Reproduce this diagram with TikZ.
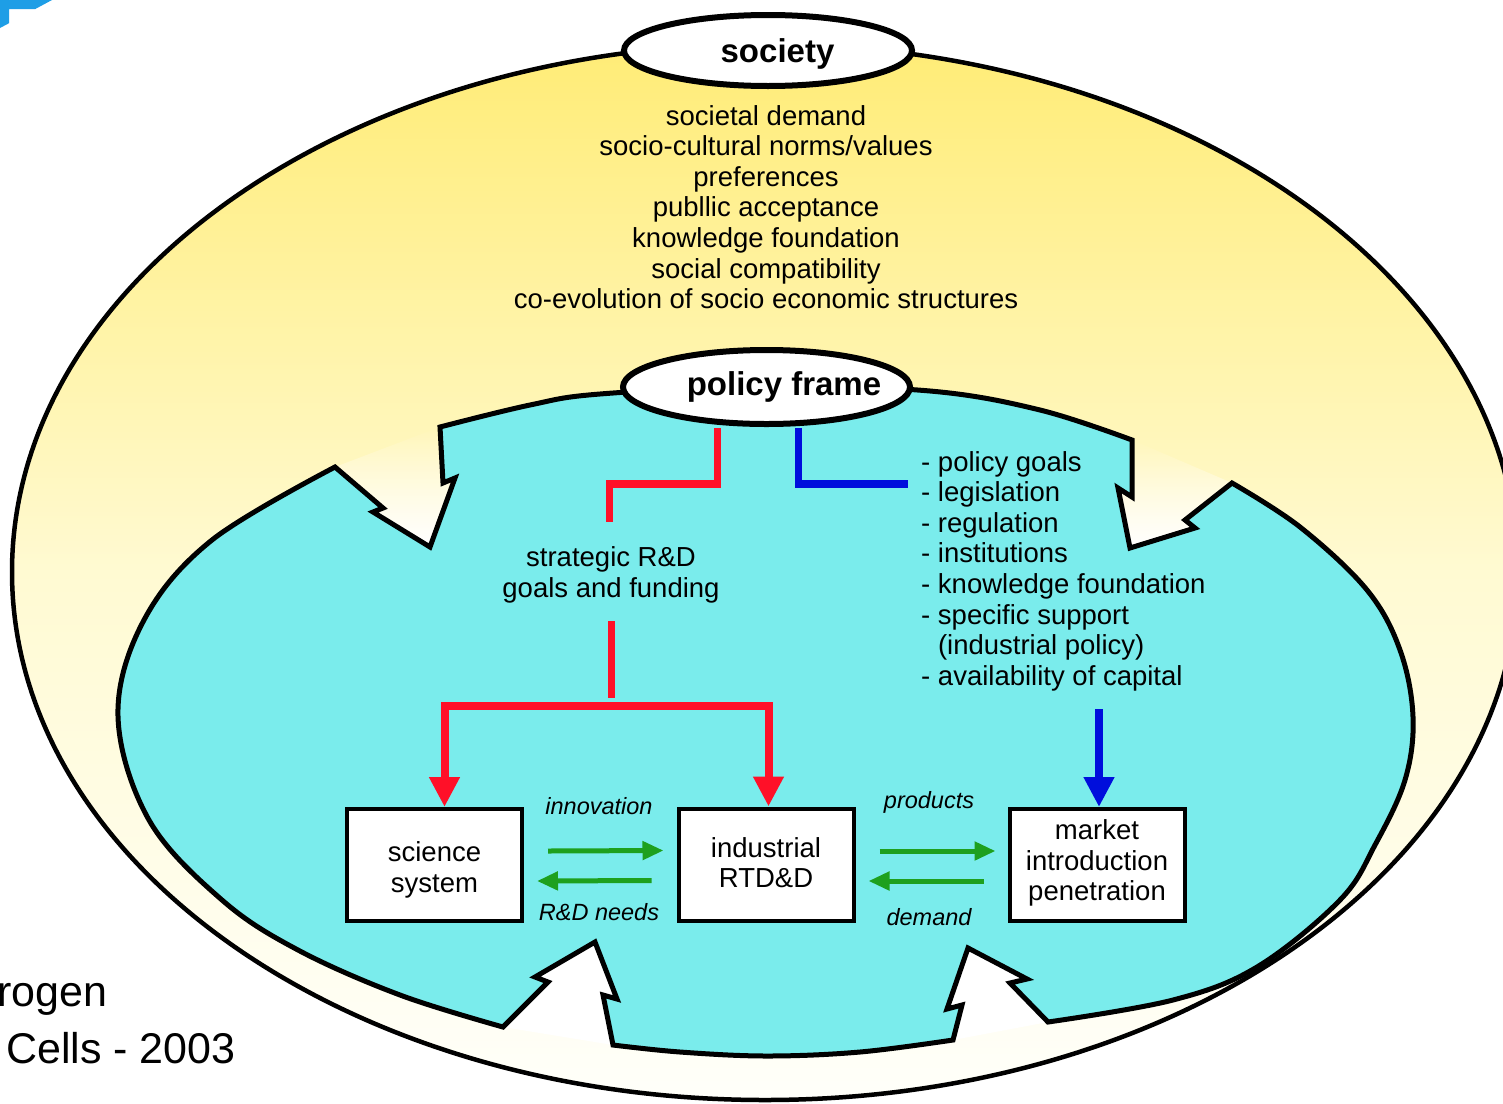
\documentclass[tikz,border=0pt]{standalone}
\usepackage{fontspec}
\setmainfont{Liberation Sans}
\usetikzlibrary{arrows.meta,shapes.geometric,fadings}
\definecolor{cyanfill}{RGB}{122,236,236}
\definecolor{yeltop}{RGB}{255,236,118}
\definecolor{yelmid}{RGB}{255,250,210}
\definecolor{yelbot}{RGB}{255,255,250}
\definecolor{redl}{RGB}{255,16,40}
\definecolor{bluel}{RGB}{0,14,220}
\definecolor{greenl}{RGB}{30,160,30}
\definecolor{cornerblue}{RGB}{30,158,230}
\tikzfading[name=fadeup, top color=transparent!100, bottom color=transparent!0]
\begin{document}
\begin{tikzpicture}[x=1pt,y=-1pt,
  txt/.style={font=\fontsize{27.5pt}{30.6pt}\selectfont, inner sep=0pt},
  lbl/.style={font=\fontsize{23.5pt}{28pt}\selectfont\itshape, inner sep=0pt},
  boxnode/.style={draw, fill=white, line width=4pt, minimum width=175pt, minimum height=112pt, inner sep=0pt},
  oval/.style={ellipse, draw, fill=white, line width=6pt, inner sep=0pt,
    font=\fontsize{33pt}{36pt}\selectfont\bfseries},
  redline/.style={draw=redl, line width=7.5pt},
  redarrow/.style={draw=redl, line width=8pt, -{Triangle[width=29pt,length=30pt]}},
  bluearrow/.style={draw=bluel, line width=8pt, -{Triangle[width=29pt,length=30pt]}},
  blueline/.style={draw=bluel, line width=7.5pt},
  greenarr/.style={draw=greenl, line width=5pt, -{Triangle[width=18pt,length=21pt]}},
  outershade/.style={top color=yeltop, bottom color=yelbot, middle color=yelmid}
]
\useasboundingbox (0,0) rectangle (1503,1103);
\fill[white] (0,0) rectangle (1503,1103);
% corner mark
\fill[cornerblue] (0,0) -- (52,0) -- (35.3,9) -- (9,9) -- (9,23.2) -- (0,28) -- cycle;

% outer society ellipse
\shade[outershade] (765,572) ellipse [x radius=753pt, y radius=528pt];
\draw[line width=4.5pt] (765,572) ellipse [x radius=753pt, y radius=528pt];

% pale bodies of the four inward arrows
\fill[white, path fading=fadeup] (440,427) -- (443,483) -- (455,478) -- (430,547) -- (373,512) -- (383,508) -- (335,467) -- cycle;
\fill[white, path fading=fadeup] (1132,440) -- (1132,497) -- (1118,488) -- (1130,548) -- (1195,528) -- (1185,520) -- (1232,483) -- cycle;
\fill[white] (503,1027) -- (548,982) -- (535,977) -- (595,942) -- (617,999) -- (603,995) -- (613,1045) -- cycle;
\fill[white] (953,1040) -- (962,1005) -- (947,1009) -- (968,948) -- (1027,979) -- (1010,983) -- (1048,1022) -- cycle;

% inner policy region with its four notches
\path[fill=cyanfill, draw=black, line width=5pt, line join=miter, miter limit=6]
  (443,483) -- (440,427)
  -- plot[smooth, tension=0.6] coordinates {(440,427) (530,405) (600,394) (767,386) (930,391) (1040,410) (1132,440)}
  -- (1132,497) -- (1118,488) -- (1130,548) -- (1195,528) -- (1185,520) -- (1232,483)
  -- plot[smooth, tension=0.6] coordinates {(1232,483) (1300,527) (1367,590) (1400,650) (1413,717) (1405,780) (1375,845) (1340,900) (1257,967) (1173,1000) (1048,1022)}
  -- (1010,983) -- (1027,979) -- (968,948) -- (947,1009) -- (962,1005) -- (953,1040)
  -- plot[smooth, tension=0.6] coordinates {(953,1040) (860,1052) (767,1056) (680,1052) (613,1045)}
  -- (603,995) -- (617,999) -- (595,942) -- (535,977) -- (548,982) -- (503,1027)
  -- plot[smooth, tension=0.6] coordinates {(503,1027) (400,995) (298,950) (222,900) (149,820) (118,716) (144,620) (212,540) (335,467)}
  -- (383,508) -- (373,512) -- (430,547) -- (455,478) -- cycle;

% ovals
\node[oval, minimum width=288pt, minimum height=71pt, text height=24.4pt, text depth=0pt] (soc) at (768,50.5) {\makebox[0pt][c]{\hspace*{19pt}society}};
\node[oval, minimum width=287pt, minimum height=74pt, text height=16pt, text depth=0pt] (pf) at (766.5,387) {\makebox[0pt][c]{\hspace*{35pt}policy frame}};

% texts
\node[txt, align=center] (soclist) at (766,207) {societal demand\\socio-cultural norms/values\\preferences\\publlic acceptance\\knowledge foundation\\social compatibility\\co-evolution of socio economic structures};
\node[txt, align=left, anchor=west] (plist) at (921,571) {- policy goals\\- legislation\\- regulation\\- institutions\\- knowledge foundation\\- specific support\\\hphantom{-\ }(industrial policy)\\- availability of capital};
\node[txt, align=center] (strat) at (611,575) {strategic R\&D\\goals and funding};

% boxes
\node[boxnode] (sci) at (434.5,865) {};
\node[boxnode] (ind) at (766,864.5) {};
\node[boxnode] (mkt) at (1097,865) {};
\node[txt, align=center] (scitxt) at (434.5,870) {science\\system};
\node[txt, align=center] (indtxt) at (766,862.5) {industrial\\RTD\&D};
\node[txt, align=center] (mkttxt) at (1097,863) {market\\introduction\\penetration};

% red and blue connectors
\coordinate (r1) at (717.5,428);
\coordinate (r2) at (609.5,484);
\coordinate (r3) at (609.5,522);
\draw[redline] (r1) |- (r2) -- (r3);
\coordinate (b1) at (798.7,428);
\coordinate (b2) at (908,484);
\draw[blueline] (b1) |- (b2);
\coordinate (t1) at (611.5,621);
\coordinate (t2) at (611.5,698);
\draw[redline] (t1) -- (t2);
\coordinate (jn) at (611.5,705.5);
\draw[redarrow] (jn) -| ([xshift=10pt]sci.north);
\draw[redarrow] (jn) -| ([xshift=2.5pt]ind.north);
\coordinate (bb) at (1099,709);
\draw[bluearrow] (bb) -- ([xshift=2pt]mkt.north);

% green arrows
\draw[greenarr] ([xshift=24pt,yshift=14pt]sci.east) -- ([xshift=-13pt,yshift=14pt]ind.west);
\draw[greenarr] ([xshift=-25pt,yshift=-16pt]ind.west) -- ([xshift=13pt,yshift=-16pt]sci.east);
\draw[greenarr] ([xshift=24pt,yshift=13.5pt]ind.east) -- ([xshift=-12pt,yshift=14pt]mkt.west);
\draw[greenarr] ([xshift=-24pt,yshift=-16pt]mkt.west) -- ([xshift=13pt,yshift=-16.5pt]ind.east);

\node[lbl] (innov) at (599,806) {innovation};
\node[lbl] (rdn) at (599,912) {R\&D needs};
\node[lbl] (prod) at (929,802) {products};
\node[lbl] (dem) at (929,917) {demand};

% bottom-left caption
\node[anchor=base west, inner sep=0pt, font=\fontsize{43pt}{50pt}\selectfont] (cap1) at (-3,1006.7) {rogen};
\node[anchor=base west, inner sep=0pt, font=\fontsize{43pt}{50pt}\selectfont] (cap2) at (6,1063) {Cells - 2003};
\end{tikzpicture}
\end{document}
